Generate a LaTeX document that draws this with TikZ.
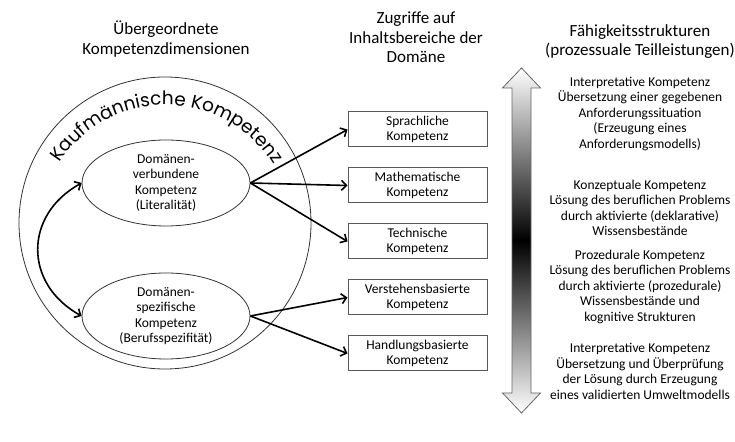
\documentclass[tikz,border=0pt]{standalone}
\usepackage{fontspec}
\setmainfont{Carlito}
\newfontfamily\arcfont{Poppins}
\usetikzlibrary{shapes,arrows.meta,positioning,decorations.text}
\tikzset{
    heading/.style = {align=center, font=\fontsize{17}{19.5}\selectfont},
    dimension/.style = {ellipse, draw=black!80, line width=0.8pt, minimum width=168pt, minimum height=86pt, inner sep=0pt, align=center, font=\fontsize{13.5}{15.5}\selectfont},
    domainbox/.style = {rectangle, draw=black!65, line width=1pt, minimum width=139pt, minimum height=35pt, inner sep=2pt, align=center, font=\fontsize{13.5}{15}\selectfont},
    skill/.style = {align=center, font=\fontsize{13.5}{15.5}\selectfont},
    link/.style = {line width=1.6pt}
}

\begin{document}
\begin{tikzpicture}[x=1pt, y=1pt, node distance=20pt, >={Straight Barb[length=5pt,width=10pt]}]
    \useasboundingbox (0,0) rectangle (735,441);

    % Headings
    \node [heading] (dimhead) at (166,402) {Übergeordnete\\Kompetenzdimensionen};
    \node [heading] (domhead) at (416,403.5) {Zugriffe auf\\Inhaltsbereiche der\\Domäne};
    \node [heading] (skillhead) at (640,399.5) {Fähigkeitsstrukturen\\(prozessuale Teilleistungen)};

    % Outer circle
    \node [circle, draw=black!80, line width=0.8pt, minimum size=292pt, inner sep=0pt] (kauf) at (165,218) {};
    \path [decorate, decoration={text along path, text align=center,
        text={|\arcfont\fontsize{18.5}{18.5}\selectfont|Kaufmännische Kompetenz}}]
        (166,209) ++(152:127) arc [start angle=152, end angle=27, radius=127];

    % Dimensions
    \node [dimension] (verbunden) at (166,258) {Domänen-\\verbundene\\Kompetenz\\(Literalität)};
    \node [dimension] (spezifisch) at (166,125) {Domänen-\\spezifische\\Kompetenz\\(Berufsspezifität)};

    % Domain boxes
    \node [domainbox] (sprache) at (417.5,311.5) {Sprachliche\\Kompetenz};
    \node [domainbox, below=of sprache] (mathe) {Mathematische\\Kompetenz};
    \node [domainbox, below=of mathe] (technik) {Technische\\Kompetenz};
    \node [domainbox, below=of technik] (verstehen) {Verstehensbasierte\\Kompetenz};
    \node [domainbox, below=of verstehen] (handlung) {Handlungsbasierte\\Kompetenz};

    % Arrows
    \draw [link, ->] (verbunden.east) -- (sprache.west);
    \draw [link, ->] (verbunden.east) -- (mathe.west);
    \draw [link, ->] (verbunden.east) -- (technik.west);
    \draw [link, ->] (spezifisch.east) -- (verstehen.west);
    \draw [link, ->] (spezifisch.east) -- (handlung.west);
    \draw [link, <->] (verbunden.west) .. controls +(-58,-32) and +(-58,32) .. (spezifisch.west);

    % Shaded double arrow
    \draw [draw=black!60, line width=0.8pt, top color=white, bottom color=white, middle color=black]
        (521.5,373) -- (540.5,353) -- (531,353) -- (531,48) -- (540.5,48) -- (521.5,28)
        -- (502.5,48) -- (512,48) -- (512,353) -- (502.5,353) -- cycle;

    % Skills
    \node [skill] (interpret) at (640,327.5) {Interpretative Kompetenz\\Übersetzung einer gegebenen\\Anforderungssituation\\(Erzeugung eines\\Anforderungsmodells)};
    \node [skill] (konzept) at (640,233) {Konzeptuale Kompetenz\\Lösung des beruflichen Problems\\durch aktivierte (deklarative)\\Wissensbestände};
    \node [skill] (prozedur) at (640,154.5) {Prozedurale Kompetenz\\Lösung des beruflichen Problems\\durch aktivierte (prozedurale)\\Wissensbestände und\\kognitive Strukturen};
    \node [skill] (pruefung) at (640,69.5) {Interpretative Kompetenz\\Übersetzung und Überprüfung\\der Lösung durch Erzeugung\\eines validierten Umweltmodells};
\end{tikzpicture}
\end{document}
